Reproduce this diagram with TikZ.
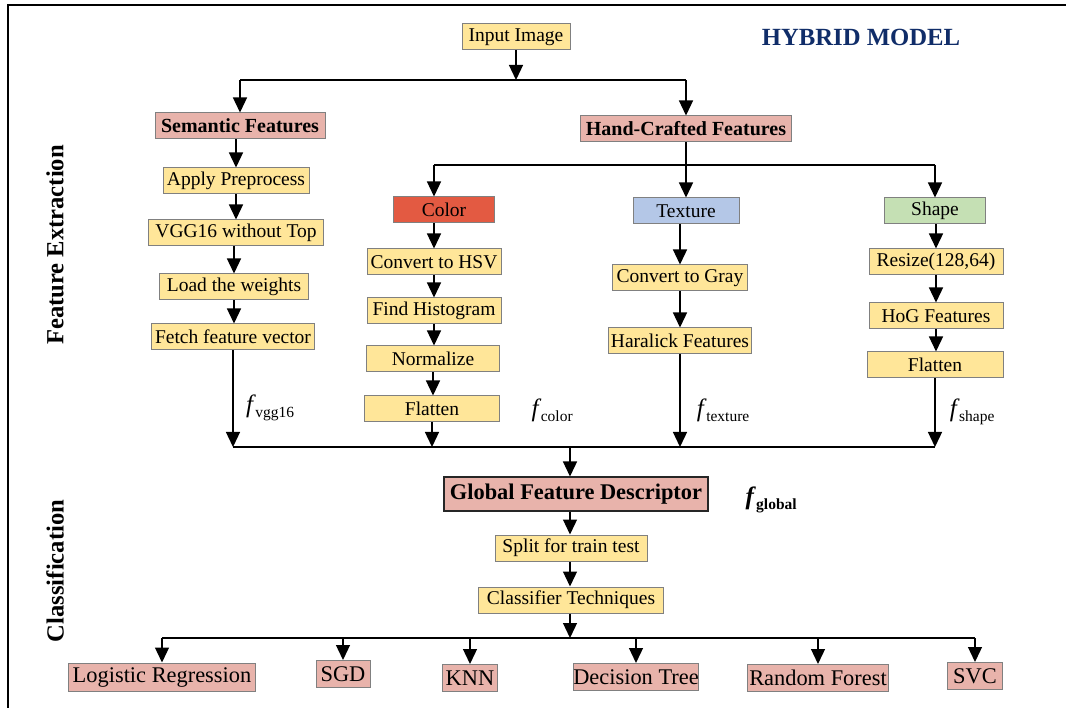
\documentclass[tikz,border=0pt]{standalone}
\usepackage{xcolor}
\usepackage{fontspec}
\setmainfont{Liberation Serif}
\usetikzlibrary{arrows.meta}

\definecolor{boxyellow}{HTML}{FFE699}
\definecolor{boxpink}{HTML}{E8B3AB}
\definecolor{boxred}{HTML}{E35A42}
\definecolor{boxblue}{HTML}{B4C7E7}
\definecolor{boxgreen}{HTML}{C5E0B4}
\definecolor{boxline}{HTML}{808080}
\definecolor{titleblue}{HTML}{102D69}

\newcommand\fsub[2][]{{\fontsize{25}{25}\selectfont\itshape#1 f}\kern-1.5pt\raisebox{-5pt}{\fontsize{15.5}{15.5}\selectfont#1 #2}}

\tikzset{
	box/.style={draw=boxline, line width=1pt, minimum height=26pt, inner sep=0pt, font=\fontsize{19.5}{22}\selectfont},
	stepbox/.style={box, fill=boxyellow},
	featbox/.style={box, fill=boxpink, font=\fontsize{20}{24}\selectfont\bfseries},
	clfbox/.style={box, fill=boxpink, minimum height=27pt, font=\fontsize{22.4}{26}\selectfont},
	arr/.style={-{Triangle[width=14pt,length=15pt]}, line width=1.3pt},
	bus/.style={line width=1.8pt},
}

\begin{document}
\begin{tikzpicture}[x=1pt, y=-1pt]
		\def\busA{80};
		\def\busB{165};
		\def\busC{447};
		\def\busD{638};

		\useasboundingbox (0,0) rectangle (1066,708);
		\draw [line width=2pt] (1066,5) -- (8,5) -- (8,708);

		% titles
		\node [font=\fontsize{24.7}{28}\selectfont\bfseries, text=titleblue] (title) at (861,37) {HYBRID MODEL};
		\node [font=\fontsize{24.6}{28}\selectfont\bfseries, rotate=90] (fe) at (55,245) {Feature Extraction};
		\node [font=\fontsize{24.6}{28}\selectfont\bfseries, rotate=90] (cls) at (55,571) {Classification};

		% feature extraction
		\node [stepbox, minimum width=108pt] (input) at (516,37) {Input Image};
		\node [featbox, minimum width=170pt] (sem) at (240,126) {Semantic Features};
		\node [featbox, minimum width=211pt] (hand) at (686,129) {Hand-Crafted Features};

		\node [stepbox, minimum width=146pt] (prep) at (236,181) {Apply Preprocess};
		\node [stepbox, minimum width=175pt] (vgg) at (236,233) {VGG16 without Top};
		\node [stepbox, minimum width=149pt] (load) at (234,287) {Load the weights};
		\node [stepbox, minimum width=163pt] (fetch) at (233,337) {Fetch feature vector};

		\node [box, fill=boxred, minimum width=101pt] (color) at (444,210) {Color};
		\node [box, fill=boxblue, minimum width=106pt] (texture) at (686,211) {Texture};
		\node [box, fill=boxgreen, minimum width=101pt] (shape) at (935,211) {Shape};

		\node [stepbox, minimum width=134pt] (hsv) at (434,262) {Convert to HSV};
		\node [stepbox, minimum width=134pt] (hist) at (434,311) {Find Histogram};
		\node [stepbox, minimum width=133pt] (norm) at (433,359) {Normalize};
		\node [stepbox, minimum width=135pt] (cflat) at (432,409) {Flatten};

		\node [stepbox, minimum width=135pt] (gray) at (680,278) {Convert to Gray};
		\node [stepbox, minimum width=143pt] (haral) at (680,341) {Haralick Features};

		\node [stepbox, minimum width=134pt] (resize) at (936,262) {Resize(128,64)};
		\node [stepbox, minimum width=134pt] (hog) at (936,316) {HoG Features};
		\node [stepbox, minimum width=136pt] (sflat) at (935,365) {Flatten};

		\node (fvgg) at (267,408) {\fsub{vgg16}};
		\node (fcolor) at (549,410) {\fsub{color}};
		\node (ftexture) at (720,410) {\fsub{texture}};
		\node (fshape) at (969,412) {\fsub{shape}};

		\coordinate (topbus) at (516,\busA);
		\coordinate (hbus) at (683,\busB);
		\coordinate (fbus) at (570,\busC);

		\draw [arr] (input.south) -- (topbus);
		\draw [bus] (sem.north |- topbus) -- (hand.north |- topbus);
		\draw [arr] (sem.north |- topbus) -- (sem.north);
		\draw [arr] (hand.north |- topbus) -- (hand.north);

		\draw [arr] (sem.south -| prep.north) -- (prep.north);
		\draw [arr] (prep.south) -- (prep.south |- vgg.north);
		\draw [arr] (vgg.south -| load.north) -- (load.north);
		\draw [arr] (load.south) -- (load.south |- fetch.north);

		\draw [line width=1.3pt] (hand.south) -- (hand.south |- hbus);
		\draw [bus] (hsv.north |- hbus) -- (shape.north |- hbus);
		\draw [arr] (hsv.north |- hbus) -- (hsv.north |- color.north);
		\draw [arr] (texture.north |- hbus) -- (texture.north);
		\draw [arr] (shape.north |- hbus) -- (shape.north);

		\draw [arr] (color.south -| hsv.north) -- (hsv.north);
		\draw [arr] (hsv.south) -- (hist.north);
		\draw [arr] (hist.south) -- (hist.south |- norm.north);
		\draw [arr] (norm.south) -- (norm.south |- cflat.north);

		\draw [arr] (texture.south -| gray.north) -- (gray.north);
		\draw [arr] (gray.south) -- (haral.north);

		\draw [arr] (shape.south -| resize.north) -- (resize.north);
		\draw [arr] (resize.south) -- (hog.north);
		\draw [arr] (hog.south) -- (hog.south |- sflat.north);

		\draw [arr] (fetch.south) -- (fetch.south |- fbus);
		\draw [arr] (cflat.south) -- (cflat.south |- fbus);
		\draw [arr] (haral.south) -- (haral.south |- fbus);
		\draw [arr] (sflat.south) -- (sflat.south |- fbus);
		\draw [bus] (fetch.south |- fbus) -- (sflat.south |- fbus);

		% classification
		\node [box, fill=boxpink, draw=black!85, line width=2pt, minimum width=264pt, minimum height=33pt, font=\fontsize{22.4}{26}\selectfont\bfseries] (global) at (576,494) {Global Feature Descriptor};
		\node (fglobal) at (768,500) {\fsub[\bfseries]{global}};
		\node [stepbox, minimum width=152pt] (split) at (571,548) {Split for train test};
		\node [stepbox, minimum width=185pt] (clf) at (571,600) {Classifier Techniques};

		\draw [arr] (fbus) -- (fbus |- global.north);
		\draw [arr] (global.south -| fbus) -- (fbus |- split.north);
		\draw [arr] (split.south -| fbus) -- (fbus |- clf.north);

		\node [clfbox, minimum width=187pt, minimum height=28pt] (lr) at (162,677) {Logistic Regression};
		\node [clfbox, minimum width=54pt] (sgd) at (343,674) {SGD};
		\node [clfbox, minimum width=55pt] (knn) at (470,678) {KNN};
		\node [clfbox, minimum width=125pt] (dt) at (636,677) {Decision Tree};
		\node [clfbox, minimum width=141pt] (rf) at (818,678) {Random Forest};
		\node [clfbox, minimum width=55pt] (svc) at (975,676) {SVC};

		\coordinate (cbus) at (570,\busD);
		\draw [arr] (clf.south -| cbus) -- (cbus);
		\draw [bus] (lr.north |- cbus) -- (svc.north |- cbus);
		\foreach \n in {lr, sgd, knn, dt, rf, svc}
			\draw [arr] (\n.north |- cbus) -- (\n.north);
	\end{tikzpicture}
\end{document}
